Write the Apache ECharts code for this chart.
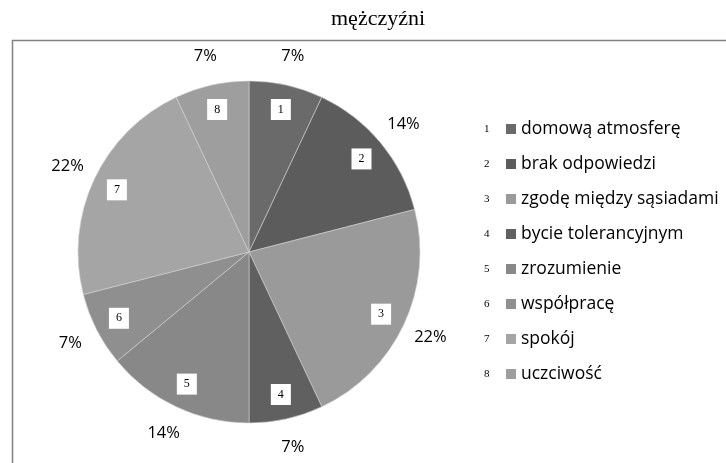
<!DOCTYPE html>
<html>
<head>
<meta charset="utf-8">
<script src="https://cdn.jsdelivr.net/npm/echarts@6/dist/echarts.min.js"></script>
<style>html,body{margin:0;padding:0;background:#fff;}#c{width:726px;height:463px;}</style>
</head>
<body>
<div id="c"></div>
<script>
const titleText = 'mężczyźni';
const categories = ['domową atmosferę', 'brak odpowiedzi', 'zgodę między sąsiadami', 'bycie tolerancyjnym', 'zrozumienie', 'współpracę', 'spokój', 'uczciwość'];
const values = [7, 14, 22, 7, 14, 7, 22, 7];
const percentLabels = ['7%', '14%', '22%', '7%', '14%', '7%', '22%', '7%'];
const colors = ['#6a6a6a', '#5c5c5c', '#9a9a9a', '#606060', '#888888', '#8f8f8f', '#a5a5a5', '#9e9e9e'];

const chart = echarts.init(document.getElementById('c'));
const center = [249, 252];

const mainData = categories.map((n, i) => ({ name: n, value: values[i], itemStyle: { color: colors[i] } }));
const innerData = categories.map((n, i) => ({ name: n, value: values[i] }));
const outerData = categories.map((n, i) => ({ name: n, value: values[i] }));

const rich = { n: { fontFamily: 'Liberation Serif', fontSize: 11, color: '#000', width: 22, align: 'left' },
  t: { fontFamily: 'Open Sans', fontSize: 17.5, color: '#000', padding: [0, 0, 0, 5] } };
colors.forEach((c, i) => { rich['s' + i] = { width: 10, height: 10, backgroundColor: c }; });

chart.setOption({
  animation: false,
  graphic: [{ type: 'rect', shape: { x: 12.5, y: 40.5, width: 800, height: 600 }, style: { fill: 'none', stroke: '#808080', lineWidth: 1.5 }, silent: true }],
  title: { text: titleText, left: 326, top: 3, textStyle: { fontFamily: 'Liberation Serif', fontSize: 22, fontWeight: 'normal', color: '#000' } },
  legend: {
    orient: 'vertical', left: 473, top: 113, itemWidth: 0, itemHeight: 0, itemGap: 13,
    data: categories,
    formatter: function (name) { const i = categories.indexOf(name); return '{n|' + (i + 1) + '}{s' + i + '|}{t|' + name + '}'; },
    textStyle: { rich: rich, lineHeight: 22 }
  },
  series: [
    { type: 'pie', center: center, radius: [0, 171], startAngle: 90, clockwise: true, data: mainData,
      label: { show: false }, labelLine: { show: false },
      itemStyle: { borderColor: '#d0d0d0', borderWidth: 0.6 }, emphasis: { disabled: true } },
    { type: 'pie', center: center, radius: [115, 171], startAngle: 90, clockwise: true, data: innerData, silent: true,
      itemStyle: { color: 'rgba(0,0,0,0)' },
      label: { show: true, position: 'inside', formatter: function (p) { return String(p.dataIndex + 1); },
        fontFamily: 'Liberation Serif', fontSize: 12, color: '#000', backgroundColor: '#fff', padding: [4, 6], lineHeight: 13, width: 8, align: 'center' },
      labelLine: { show: false }, emphasis: { disabled: true } },
    { type: 'pie', center: center, radius: [171, 224], startAngle: 90, clockwise: true, data: outerData, silent: true,
      itemStyle: { color: 'rgba(0,0,0,0)' },
      label: { show: true, position: 'inside', formatter: function (p) { return percentLabels[p.dataIndex]; },
        fontFamily: 'Open Sans', fontSize: 16.5, color: '#000' },
      labelLine: { show: false }, emphasis: { disabled: true } }
  ]
});
</script>
</body>
</html>
